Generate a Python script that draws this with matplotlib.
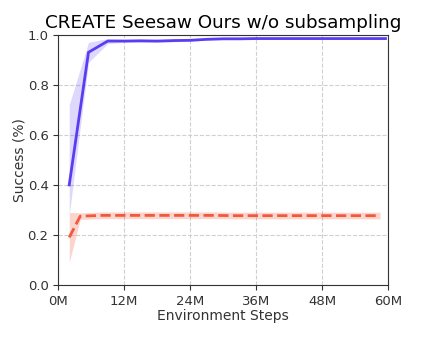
import matplotlib.pyplot as plt
import numpy as np

# environment steps (millions)
steps_ours = [2, 5.5, 9, 12, 15, 18, 21, 24, 27, 30, 33, 36, 40, 44, 48, 52, 56, 59.5]
succ_ours = [0.40, 0.93, 0.975, 0.975, 0.976, 0.975, 0.977, 0.978, 0.982, 0.984, 0.984, 0.985, 0.985, 0.985, 0.985, 0.985, 0.985, 0.985]
lo_ours = [0.28, 0.89, 0.965, 0.970, 0.970, 0.970, 0.972, 0.975, 0.979, 0.981, 0.981, 0.982, 0.982, 0.982, 0.982, 0.982, 0.982, 0.982]
hi_ours = [0.72, 0.97, 0.985, 0.982, 0.982, 0.980, 0.982, 0.982, 0.985, 0.987, 0.987, 0.988, 0.988, 0.988, 0.988, 0.988, 0.988, 0.988]

steps_sub = [2, 4, 8, 12, 16, 20, 24, 28, 32, 36, 40, 44, 48, 52, 56, 58.5]
succ_sub = [0.19, 0.275, 0.278, 0.278, 0.278, 0.278, 0.278, 0.278, 0.277, 0.277, 0.277, 0.277, 0.277, 0.277, 0.277, 0.277]
lo_sub = [0.09, 0.262, 0.265, 0.265, 0.265, 0.265, 0.265, 0.265, 0.264, 0.264, 0.264, 0.264, 0.264, 0.264, 0.264, 0.264]
hi_sub = [0.29, 0.288, 0.292, 0.292, 0.292, 0.292, 0.292, 0.292, 0.291, 0.291, 0.291, 0.291, 0.291, 0.291, 0.291, 0.291]

xticks = [0, 12, 24, 36, 48, 60]
xticklabels = ['0M', '12M', '24M', '36M', '48M', '60M']

blue = '#5b3cf2'
red = '#f05a3a'

fig, ax = plt.subplots(figsize=(4.22, 3.38), dpi=100)
ax.fill_between(steps_ours, lo_ours, hi_ours, color=blue, alpha=0.2, linewidth=0)
ax.plot(steps_ours, succ_ours, '-', color=blue, linewidth=2)
ax.fill_between(steps_sub, lo_sub, hi_sub, color=red, alpha=0.25, linewidth=0)
ax.plot(steps_sub, succ_sub, '--', color=red, linewidth=2)

ax.set_xlim(0, 60)
ax.set_ylim(0, 1.0)
ax.set_xticks(xticks)
ax.set_xticklabels(xticklabels)
ax.set_yticks(np.arange(0, 1.01, 0.2))
ax.tick_params(labelsize=9.5, colors='#333333', labelcolor='#333333')
for s in ax.spines.values():
    s.set_color('#333333')
ax.grid(True, linestyle='--', color='#d0d0d0', linewidth=0.8)
ax.set_axisbelow(True)
ax.set_xlabel('Environment Steps', fontsize=10, color='#333333', labelpad=1)
ax.set_ylabel('Success (%)', fontsize=10, color='#333333', labelpad=1)
ax.set_title('CREATE Seesaw Ours w/o subsampling', fontsize=13.2, pad=5)

fig.subplots_adjust(left=0.138, right=0.92, top=0.897, bottom=0.157)
fig.savefig('out.png', dpi=100)
